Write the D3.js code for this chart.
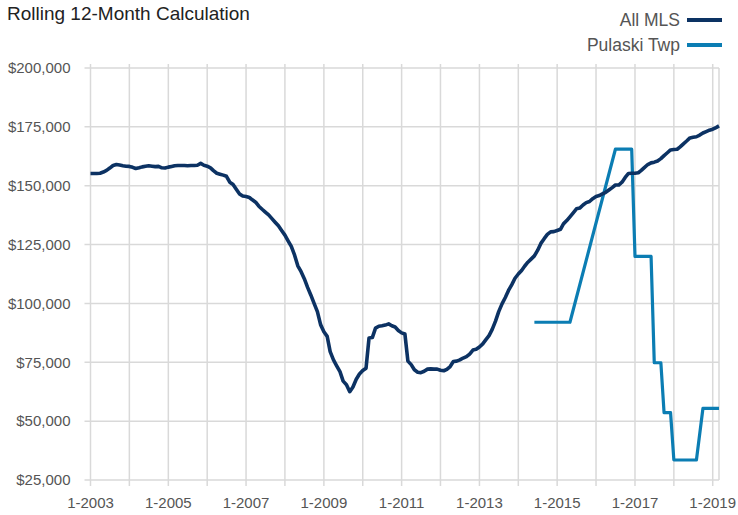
<!DOCTYPE html>
<html>
<head>
<meta charset="utf-8">
<script src="https://cdn.jsdelivr.net/npm/d3@7"></script>
<style>
  body { margin: 0; background: #fff; }
  text { font-family: "Liberation Sans", Arial, sans-serif; }
</style>
</head>
<body>
<svg id="chart"></svg>
<script>
// All MLS rolling 12-month median, monthly from 1-2003 to 3-2019 ($ thousands)
var allMls = [
  155.2, 155.2, 155.2, 155.3, 155.8, 156.5, 157.5, 158.6, 159.0, 158.8, 158.5, 158.3, // 2003
  158.2, 157.8, 157.3, 157.6, 158.0, 158.3, 158.5, 158.3, 158.1, 158.2, 157.6, 157.5, // 2004
  157.9, 158.2, 158.5, 158.6, 158.6, 158.6, 158.5, 158.6, 158.6, 158.7, 159.5, 158.7, // 2005
  158.3, 157.6, 156.4, 155.3, 154.9, 154.5, 154.0, 151.5, 150.5, 148.5, 146.5, 145.6, // 2006
  145.4, 145.0, 144.0, 143.0, 141.3, 140.0, 138.8, 137.6, 136.0, 134.5, 133.0, 131.0, // 2007
  129.0, 126.5, 124.2, 120.5, 116.0, 113.5, 110.5, 106.8, 103.5, 100.0, 96.5, 91.0,   // 2008
  88.0, 86.0, 79.5, 76.0, 73.5, 71.0, 67.0, 65.5, 62.5, 64.5, 67.8, 70.0,             // 2009
  71.5, 72.5, 85.3, 85.5, 89.5, 90.3, 90.5, 90.8, 91.3, 90.5, 90.0, 88.5,             // 2010
  87.5, 87.0, 75.5, 74.0, 71.8, 70.8, 70.6, 71.2, 72.1, 72.2, 72.1, 72.1,             // 2011
  71.6, 71.4, 72.0, 73.2, 75.3, 75.5, 76.0, 76.8, 77.4, 78.5, 80.2, 80.5,             // 2012
  81.5, 82.8, 84.5, 86.3, 89.0, 92.5, 96.5, 99.8, 102.5, 105.5, 108.0, 110.7,         // 2013
  112.5, 114.0, 115.8, 117.5, 118.8, 120.2, 122.5, 125.5, 127.5, 129.3, 130.4, 130.5, // 2014
  131.0, 131.5, 133.8, 135.2, 136.8, 138.5, 140.2, 140.5, 141.8, 142.8, 143.3, 144.5, // 2015
  145.4, 145.8, 146.5, 147.2, 148.2, 149.2, 150.3, 150.3, 151.5, 153.5, 155.2, 155.3, // 2016
  155.3, 155.5, 156.5, 157.8, 159.0, 159.7, 160.0, 160.5, 161.5, 162.8, 164.0, 165.2, // 2017
  165.4, 165.5, 166.5, 167.8, 169.0, 170.3, 170.6, 170.8, 171.5, 172.4, 173.0, 173.6, // 2018
  174.0, 174.7, 175.4                                                                 // 2019
];

// Pulaski Twp: only the months that have a value ($ thousands)
var pulaskiMonths = [
  "2014-06", "2014-07", "2014-08", "2014-09", "2014-10", "2014-11", "2014-12",
  "2015-01", "2015-02", "2015-03", "2015-04", "2015-05",
  "2016-07", "2016-08", "2016-09", "2016-10", "2016-11", "2016-12",
  "2017-01", "2017-02", "2017-03", "2017-04", "2017-05", "2017-06",
  "2017-07", "2017-08", "2017-09",
  "2017-10", "2017-11", "2017-12",
  "2018-01", "2018-02", "2018-03", "2018-04", "2018-05", "2018-06", "2018-07", "2018-08",
  "2018-10", "2018-11", "2018-12", "2019-01", "2019-02", "2019-03"
];
var pulaskiValues = [
  92, 92, 92, 92, 92, 92, 92,
  92, 92, 92, 92, 92,
  165.5, 165.5, 165.5, 165.5, 165.5, 165.5,
  120, 120, 120, 120, 120, 120,
  74.8, 74.8, 74.8,
  53.6, 53.6, 53.6,
  33.5, 33.5, 33.5, 33.5, 33.5, 33.5, 33.5, 33.5,
  55.4, 55.4, 55.4, 55.4, 55.4, 55.4
];

var yTicks = [25000, 50000, 75000, 100000, 125000, 150000, 175000, 200000];
var seriesNames = ["All MLS", "Pulaski Twp"];
var seriesColors = ["#0c3263", "#0b7db3"];

var parseMonth = d3.timeParse("%Y-%m");
var months = d3.timeMonth.range(new Date(2003, 0, 1), new Date(2019, 3, 1));

var mlsData = allMls.map(function(v, i) { return { date: months[i], value: v * 1000 }; });
var pulaskiData = pulaskiMonths.map(function(m, i) { return { date: parseMonth(m), value: pulaskiValues[i] * 1000 }; });

var W = 738, H = 515;
var margin = { top: 68, right: 19, bottom: 35, left: 90.5 };
var width = W - margin.left - margin.right,
    height = H - margin.top - margin.bottom;

var svg = d3.select("#chart").attr("width", W).attr("height", H);

var g = svg.append("g")
  .attr("transform", "translate(" + margin.left + "," + margin.top + ")");

var x = d3.scaleTime()
  .domain([months[0], months[months.length - 1]])
  .range([0, width]);

var y = d3.scaleLinear()
  .domain([25000, 200000])
  .range([height, 0]);

var gridColor = "#d9d9d9";
var textColor = "#555";

// vertical grid lines (yearly)
var years = d3.timeYear.range(new Date(2003, 0, 1), new Date(2019, 1, 1));
g.append("g").selectAll("line")
  .data(years)
  .enter().append("line")
  .attr("x1", d => x(d)).attr("x2", d => x(d))
  .attr("y1", -4).attr("y2", height + 6)
  .style("stroke", gridColor).style("stroke-width", 1.5);

// right border
g.append("line")
  .attr("x1", width).attr("x2", width)
  .attr("y1", 0).attr("y2", height)
  .style("stroke", gridColor).style("stroke-width", 1.5);

// horizontal grid lines
g.append("g").selectAll("line")
  .data(yTicks)
  .enter().append("line")
  .attr("x1", -6).attr("x2", width)
  .attr("y1", d => y(d)).attr("y2", d => y(d))
  .style("stroke", gridColor).style("stroke-width", 1.5);

// y axis labels
var fmt = d3.format("$,");
g.append("g").selectAll("text")
  .data(yTicks)
  .enter().append("text")
  .attr("x", -20)
  .attr("y", d => y(d))
  .attr("dy", "0.35em")
  .attr("text-anchor", "end")
  .style("font-size", "15px")
  .style("fill", textColor)
  .text(d => fmt(d));

// x axis labels every 2 years
var fmtX = d3.timeFormat("%Y");
g.append("g").selectAll("text")
  .data(years.filter((d, i) => i % 2 === 0))
  .enter().append("text")
  .attr("x", d => x(d))
  .attr("y", height + 28)
  .attr("text-anchor", "middle")
  .style("font-size", "15px")
  .style("fill", textColor)
  .text(d => "1-" + fmtX(d));

var line = d3.line()
  .x(d => x(d.date))
  .y(d => y(d.value));

g.append("path")
  .datum(pulaskiData)
  .attr("d", line)
  .style("fill", "none")
  .style("stroke", seriesColors[1])
  .style("stroke-width", 3.2)
  .style("stroke-linejoin", "round");

g.append("path")
  .datum(mlsData)
  .attr("d", line)
  .style("fill", "none")
  .style("stroke", seriesColors[0])
  .style("stroke-width", 3.6)
  .style("stroke-linejoin", "round");

// title
svg.append("text")
  .attr("x", 7)
  .attr("y", 20)
  .style("font-size", "19px")
  .style("fill", "#222")
  .text("Rolling 12-Month Calculation");

// legend
var legend = svg.append("g").selectAll("g")
  .data(seriesNames)
  .enter().append("g")
  .attr("transform", (d, i) => "translate(0," + (20 + i * 25) + ")");

legend.append("text")
  .attr("x", 680)
  .attr("dy", "0.35em")
  .attr("text-anchor", "end")
  .style("font-size", "17.5px")
  .style("fill", textColor)
  .text(d => d);

legend.append("line")
  .attr("x1", 687).attr("x2", 722)
  .style("stroke", (d, i) => seriesColors[i])
  .style("stroke-width", 4);
</script>
</body>
</html>
